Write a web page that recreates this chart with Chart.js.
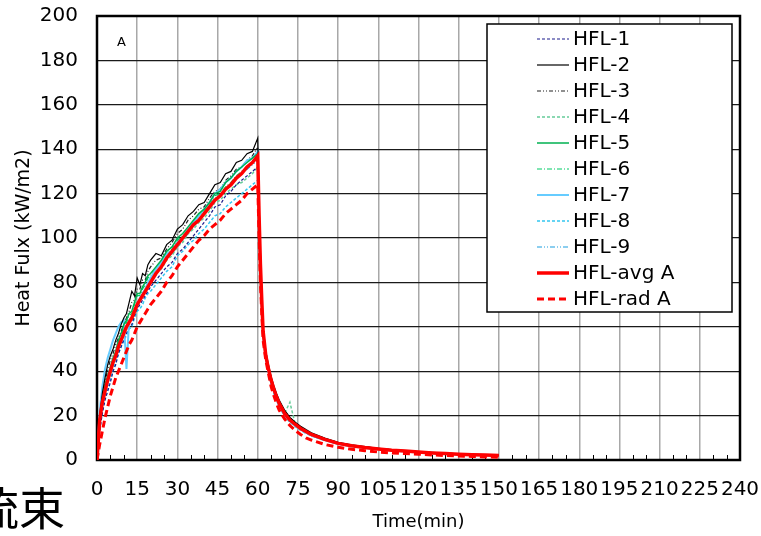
<!DOCTYPE html>
<html><head><meta charset="utf-8">
<script src="https://cdn.jsdelivr.net/npm/chart.js@4/dist/chart.umd.min.js"></script>
<style>html,body{margin:0;padding:0;background:#fff;overflow:hidden}canvas{display:block}</style>
</head><body>
<canvas id="c" width="761" height="536"></canvas>
<script>
// time axis (min)
const timeMin = [0,1,2,3,4,5,6,7,8,9,10,11,12,13,14,15,16,17,18,19,20,22,24,26,28,30,32,34,36,38,40,42,44,46,48,50,52,54,56,58,60,
  60.5,61,61.5,62,63,64,65,66,67,68,70,72,74,76,78,80,85,90,95,100,105,110,115,120,125,130,135,140,145,150];

const hfl1 = [0,13,21,27,31,35,40,43,48,51,54,57,60,61,65,68,70,72,74,76,78, 81,84,87,89,93,95,98,101,104,107, 110,114,115,119,121,124,126,128,130,132,
  104,84,69,56,46,40,35,31,27.5,24.5,20.3,17.4,15.4,13.7,12.3,11,8.9,7.2,6.2,5.4,4.8,4.3,3.9,3.5,3.1,2.8,2.5,2.3,2.1,1.9];
const hfl2 = [0,20,30,37,43,47,50,54,57,61,64,66,71,76,74,82,79,84,83,88,90, 93,92,97,99,104,106,110,112,115,116, 120,124,125,129,130,134,135,138,139,145,
  115,92,75,60,49,43,37.5,33.5,30,27,22.5,19.2,17,15.2,13.7,12.3,9.9,8.0,6.8,6.0,5.3,4.7,4.2,3.8,3.4,3.1,2.8,2.6,2.4,2.2];
const hfl3 = [0,19,29,35,41,45,48,52,55,58,61,64,67,71,72,77,77,81,81,85,87, 90,91,95,98,102,104,108,110,113,114, 118,121,122,126,128,131,132,135,137,141,
  113,90,74,59,48,42,37,33,29.5,26.5,22,19,16.7,14.9,13.4,12,9.7,7.9,6.7,5.9,5.2,4.6,4.1,3.7,3.3,3.0,2.7,2.5,2.3,2.1];
const hfl4 = [0,17,25,31,35,39,43,47,51,54,57,60,62,64,67,71,72,75,76,79,80, 84,86,90,92,96,98,102,104,107,109, 112,116,117,120,122,124,125,127,129,132,
  106,85,70,57,46.5,40.5,35.5,31.5,28,25,21,26,16,14,12.6,11.3,9.2,7.5,6.5,5.7,5.0,4.4,4.0,3.6,3.2,2.9,2.6,2.4,2.2,2.0];
const hfl5 = [0,19,28,34,38,42,46,49,54,57,61,63,66,67,71,75,75,78,80,83,84, 87,90,94,96,100,102,105,108,111,113, 116,120,121,125,127,130,132,134,136,138,
  110,88,72,58,47,41,36,32,28.5,25.5,21.2,18.2,16.1,14.3,12.9,11.6,9.4,7.6,6.5,5.7,5.1,4.5,4.0,3.6,3.3,3.0,2.7,2.4,2.2,2.0];
const hfl6 = [0,18,27,33,37,41,45,48,53,56,60,62,65,66,70,74,74,77,79,82,83, 86,89,93,95,99,101,104,107,110,112, 115,119,120,123,125,128,130,132,134,136,
  108,87,71,57.5,47,41,35.5,31.5,28,25.2,20.8,17.8,15.8,14.1,12.7,11.4,9.3,7.5,6.4,5.6,5.0,4.4,4.0,3.6,3.2,2.9,2.6,2.4,2.2,2.0];
const hfl7 = [0,22,33,41,46,50,54,57,60,62,63,41,63,64,67,70,73,75,77,80,82, 86,89,93,94,98,100,104,107,110,113, 116,120,122,125,127,130,132,135,136,139,
  110,87,71,57,46,40,35,31,27.5,24.5,20.3,17.4,15.4,13.7,12.3,11.1,9.0,7.3,6.2,5.5,4.9,4.3,3.9,3.5,3.1,2.8,2.5,2.3,2.1,1.9];
const hfl8 = [0,14,22,28,32,36,41,44,48,51,54,56,59,60,64,67,68,70,73,75,76, 79,82,85,87,92,94,97,99,102,104, 107,110,111,114,116,118,120,122,124,126,
  100,80,67,55,45,39,34,30,26.8,24,19.8,17,15,13.4,12,10.8,8.8,7.1,6.1,5.4,4.7,4.2,3.8,3.4,3.0,2.7,2.4,2.2,2.0,1.8];
const hfl9 = [0,18,27,33,37,41,45,48,53,55,59,61,63,65,68,71,72,75,77,79,81, 84,87,91,93,96,99,102,105,108,111, 114,118,119,122,124,127,129,131,133,135,
  106,85,70,56.5,46,40,35,31,27.8,24.8,20.6,17.6,15.6,13.9,12.5,11.2,9.1,7.4,6.3,5.5,4.9,4.3,3.9,3.5,3.2,2.9,2.6,2.3,2.1,1.9];
const hflAvgA = [0,18,26,31,36,40,44,47,51,54,57,60,62,64,67,70,72,74,76,78,80, 84,87,91,94,97,100,103,106,108,111, 114,117,119,122,124,127,129,132,134,137,
  110,88,72,58,47,41,36,32,28.5,25.5,21,18,16,14.2,12.8,11.5,9.3,7.5,6.4,5.6,5.0,4.4,4.0,3.6,3.2,2.9,2.6,2.4,2.2,2.0];
const hflRadA = [0,7,13,19,24,29,33,37,40,43,46,49,52,54,57,60,62,64,66,68,70, 73,76,80,83,87,90,93,96,99,101, 104,106,108,111,113,115,117,120,122,124,
  100,80,66,54,45,39,33,29,25.5,22.5,18.5,15.5,13.3,11.5,10,9,7,5.7,4.8,4.2,3.6,3.2,2.9,2.6,2.3,2.0,1.8,1.6,1.4,1.2];

const seriesNames = ['HFL-1','HFL-2','HFL-3','HFL-4','HFL-5','HFL-6','HFL-7','HFL-8','HFL-9','HFL-avg A','HFL-rad A'];
const seriesValues = [hfl1,hfl2,hfl3,hfl4,hfl5,hfl6,hfl7,hfl8,hfl9,hflAvgA,hflRadA];
const xMin = 0, xMax = 240, xStep = 15, xMinorStep = 5;
const yMin = 0, yMax = 200, yStep = 20;

const styles = [
  {c:'#1a1a8c', w:1.2, d:[3,2], o:5},
  {c:'#000000', w:1.2, d:[], o:3},
  {c:'#222222', w:1.2, d:[4,2,1,2,1,2], o:5},
  {c:'#66cc99', w:1.5, d:[3,2], o:5},
  {c:'#00b050', w:1.5, d:[], o:4},
  {c:'#00cc66', w:1.2, d:[5,2,1,2], o:5},
  {c:'#66ccff', w:2, d:[], o:4},
  {c:'#33c6f0', w:1.5, d:[3,2], o:5},
  {c:'#1a9ee0', w:1.2, d:[5,2,1,2,1,2], o:5},
  {c:'#ff0000', w:3.5, d:[], o:0},
  {c:'#ff0000', w:3, d:[7,4], o:1}
];

const datasets = seriesNames.map((n,i)=>({
  label:n,
  data: timeMin.map((t,k)=>({x:t, y:seriesValues[i][k]})),
  borderColor: styles[i].c, backgroundColor: styles[i].c,
  borderWidth: styles[i].w, borderDash: styles[i].d, order: styles[i].o,
  pointRadius:0, tension:0, fill:false
}));

const FONT = 'DejaVu Sans';

const framePlugin = {
  id:'frame',
  beforeDatasetsDraw(chart){
    const {ctx, chartArea:a, scales:{x}} = chart;
    ctx.save();
    ctx.strokeStyle='#000'; ctx.lineWidth=1;
    for(let v=xMin+xMinorStep; v<xMax; v+=xMinorStep){
      if(v % xStep === 0) continue;
      const px = Math.round(x.getPixelForValue(v))+0.5;
      ctx.beginPath(); ctx.moveTo(px,a.bottom); ctx.lineTo(px,a.bottom-5); ctx.stroke();
    }
    ctx.lineWidth=2.5;
    ctx.strokeRect(a.left, a.top, a.right-a.left, a.bottom-a.top);
    ctx.restore();
  },
  afterDraw(chart){
    const {ctx, chartArea:a} = chart;
    ctx.save();
    // panel letter
    ctx.fillStyle='#000'; ctx.font='13px "'+FONT+'"'; ctx.textBaseline='middle'; ctx.textAlign='left';
    ctx.fillText('A', a.left+20, a.top+27);
    // legend
    const lx=487, ly=24, lw=245, lh=288;
    ctx.fillStyle='#fff'; ctx.fillRect(lx,ly,lw,lh);
    ctx.strokeStyle='#000'; ctx.lineWidth=1.5; ctx.setLineDash([]); ctx.strokeRect(lx,ly,lw,lh);
    chart.data.datasets.forEach((ds,i)=>{
      const y = 39 + 26*i;
      ctx.strokeStyle=ds.borderColor; ctx.lineWidth=ds.borderWidth; ctx.setLineDash(ds.borderDash||[]);
      ctx.beginPath(); ctx.moveTo(537,y); ctx.lineTo(569,y); ctx.stroke();
      ctx.setLineDash([]);
      ctx.fillStyle='#000'; ctx.font='20px "'+FONT+'"'; ctx.textBaseline='middle';
      ctx.fillText(ds.label, 573, y+1);
    });
    // clipped heading text at bottom-left
    ctx.font='46px "Noto Sans CJK JP"'; ctx.textBaseline='middle'; ctx.fillStyle='#000';
    ctx.fillText('流束', -27, 508);
    ctx.restore();
  }
};

new Chart(document.getElementById('c'), {
  type:'line',
  data:{datasets},
  options:{
    responsive:false, animation:false, devicePixelRatio:1,
    layout:{padding:{top:16,right:21,left:0,bottom:0}},
    plugins:{legend:{display:false}, tooltip:{enabled:false}},
    scales:{
      x:{type:'linear', min:xMin, max:xMax,
        afterFit(s){ s.height = 76; },
        ticks:{stepSize:xStep, autoSkip:false, maxRotation:0, minRotation:0, padding:0, color:'#000', font:{family:FONT, size:20}},
        grid:{color:'#a8a8a8', lineWidth:1.5, drawTicks:true, tickLength:18, tickColor:'rgba(0,0,0,0)'},
        border:{display:false},
        title:{display:true, text:'Time(min)', color:'#000', font:{family:FONT, size:18}, padding:{top:0,bottom:3}}
      },
      y:{type:'linear', min:yMin, max:yMax,
        afterFit(s){ s.width = 97; },
        ticks:{stepSize:yStep, padding:0, color:'#000', font:{family:FONT, size:20}},
        grid:{color:'#1a1a1a', lineWidth:1.2, drawTicks:true, tickLength:19, tickColor:'rgba(0,0,0,0)'},
        border:{display:false},
        title:{display:true, text:'Heat Fulx (kW/m2)', color:'#000', font:{family:FONT, size:19}, padding:{top:13,bottom:0}}
      }
    }
  },
  plugins:[framePlugin]
});
</script>
</body></html>
